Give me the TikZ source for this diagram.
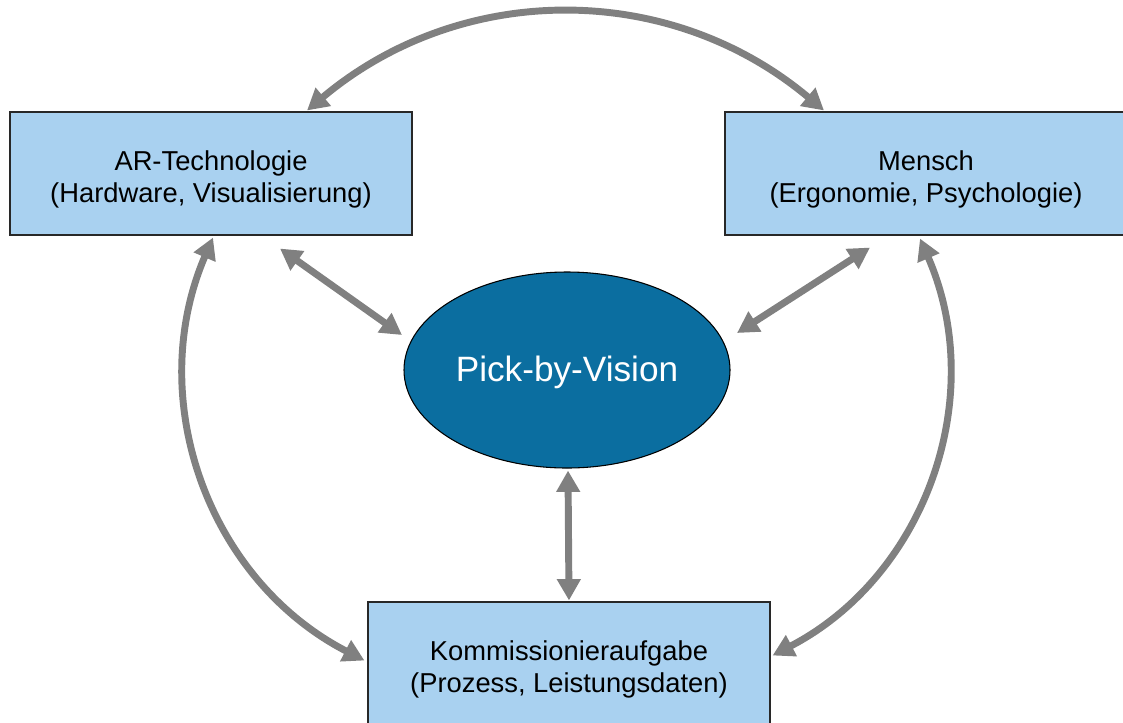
\documentclass[tikz,border=0pt]{standalone}
\usepackage{fontspec}
\setmainfont{Liberation Sans}
\usetikzlibrary{arrows.meta,shapes.geometric,calc}
\definecolor{boxblue}{RGB}{169,209,240}
\definecolor{ellblue}{RGB}{11,110,160}
\definecolor{arrgray}{RGB}{128,128,128}
\definecolor{edgegray}{RGB}{40,40,40}
\newcommand{\toppad}{\rule{0pt}{23pt}}
\tikzset{
  box/.style={draw=edgegray, line width=0.8pt, fill=boxblue, rectangle,
    minimum width=301.5pt, minimum height=92.25pt, inner sep=0pt,
    align=center, font=\fontsize{20.5}{24}\selectfont},
  pbvnode/.style={draw=black, line width=0.8pt, fill=ellblue, ellipse,
    minimum width=244.5pt, minimum height=147pt, inner sep=0pt,
    text=white, font=\fontsize{26.4}{30}\selectfont},
  dblarrow/.style={draw=arrgray, line width=5.2pt,
    {Triangle[length=16pt,width=17pt]}-{Triangle[length=16pt,width=17pt]}}
}
\begin{document}
\begin{tikzpicture}[x=0.75pt,y=-0.75pt]
\useasboundingbox (0,0) rectangle (1123,722);
\clip (0,0) rectangle (1123,722);
\node[box] (ar) at (211,173.5) {\toppad AR-Technologie\\(Hardware, Visualisierung)};
\node[box] (me) at (926,173.5) {\toppad Mensch\\(Ergonomie, Psychologie)};
\node[box] (kom) at (569,663.5) {\toppad Kommissionieraufgabe\\(Prozess, Leistungsdaten)};
\node[pbvnode] (pbv) at (567,370) {\rule{0pt}{22pt}Pick-by-Vision};
% arcs
\draw[dblarrow] ($(ar.north)+(96,-1)$) to[bend left=40] ($(me.north)+(-102,-1)$);
\draw[dblarrow] ($(ar.south)+(2,2)$) to[bend right=43] ($(kom.west)+(-3,-3)$);
\draw[dblarrow] ($(me.south)+(-6,3)$) to[bend left=43] ($(kom.east)+(2,-8)$);
% straight
\draw[dblarrow] ($(ar.south)+(69,13)$) -- ($(pbv.center)+(-165,-35)$);
\draw[dblarrow] ($(me.south)+(-56,12)$) -- ($(pbv.center)+(170,-37)$);
\draw[dblarrow] ($(pbv.south)+(1,2)$) -- ($(kom.north)+(0,-1)$);
\end{tikzpicture}
\end{document}
